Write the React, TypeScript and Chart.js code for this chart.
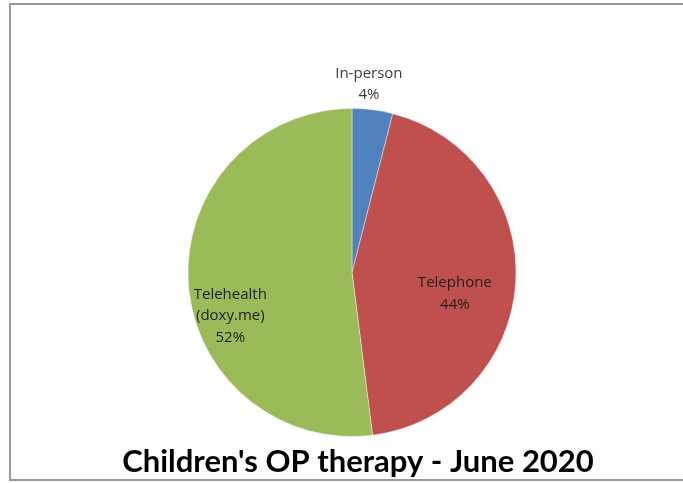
import React, { useEffect, useRef } from "react";
import { Chart, registerables } from "chart.js";

Chart.register(...registerables);

const categories = ["In-person", "Telephone", "Telehealth (doxy.me)"];
const labelLines = [["In-person", "4%"], ["Telephone", "44%"], ["Telehealth", "(doxy.me)", "52%"]];
const values = [4, 44, 52];
const colors = ["#4F81BD", "#C0504D", "#9BBB59"];
const chartTitle = "Children's OP therapy - June 2020";

// label placement relative to pie centre, in units of radius
const labelOffsets = [
  [0.103, -1.147],
  [0.627, 0.13],
  [-0.742, 0.265],
];

const decorPlugin = {
  id: "decor",
  beforeDraw(chart: any) {
    const ctx = chart.ctx;
    ctx.save();
    ctx.strokeStyle = "#9a9a9a";
    ctx.lineWidth = 2;
    ctx.strokeRect(10, 4, 700, 476);
    ctx.restore();
  },
  afterDraw(chart: any) {
    const ctx = chart.ctx;
    const meta = chart.getDatasetMeta(0);
    const arc0 = meta.data[0];
    const cx = arc0.x;
    const cy = arc0.y;
    const r = arc0.outerRadius;
    ctx.save();
    ctx.textAlign = "center";
    ctx.textBaseline = "middle";
    ctx.font = "15px 'Open Sans'";
    labelLines.forEach((lines, i) => {
      const [ox, oy] = labelOffsets[i];
      const x = cx + ox * r;
      const y = cy + oy * r;
      const lh = 21.5;
      ctx.fillStyle = i === 0 ? "#3a3a3a" : "#1e1e1e";
      lines.forEach((t, j) => {
        ctx.fillText(t, x, y + (j - (lines.length - 1) / 2) * lh);
      });
    });
    ctx.fillStyle = "#000";
    ctx.font = "bold 31px Lato";
    ctx.fillText(chartTitle, 358, 462);
    ctx.restore();
  },
};

export default function App() {
  const ref = useRef<HTMLCanvasElement>(null);
  useEffect(() => {
    document.body.style.margin = "0";
    const chart = new Chart(ref.current!, {
      type: "pie",
      data: {
        labels: categories,
        datasets: [
          {
            data: values,
            backgroundColor: colors,
            borderColor: "rgba(255,255,255,0.4)",
            borderWidth: 1,
          },
        ],
      },
      options: {
        animation: false,
        responsive: false,
        layout: { padding: { left: 187.5, right: 166.5, top: 108, bottom: 46 } },
        plugins: {
          legend: { display: false },
          tooltip: { enabled: false },
          title: { display: false },
        },
      },
      plugins: [decorPlugin],
    });
    return () => chart.destroy();
  }, []);
  return (
    <div style={{ position: "absolute", left: 0, top: 0, width: 683, height: 483, background: "#fff" }}>
      <canvas ref={ref} width={683} height={483} />
    </div>
  );
}
